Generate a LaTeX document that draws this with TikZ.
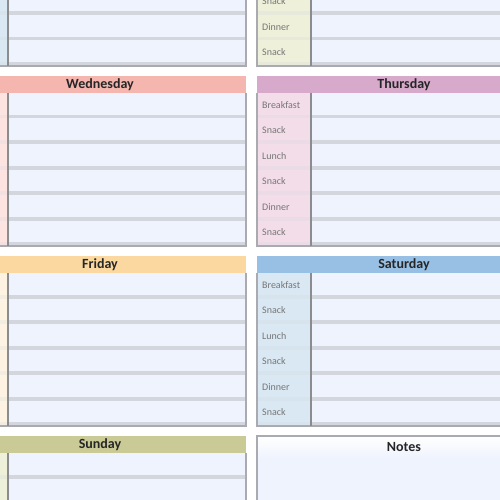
\documentclass[tikz,border=0pt]{standalone}
\usepackage{fontspec}
\setmainfont{Carlito}
\definecolor{cell}{HTML}{EFF3FD}
\definecolor{band}{HTML}{D3D6DD}
\definecolor{bordergray}{HTML}{A9ABB0}
\definecolor{divgray}{HTML}{8A8C90}
\definecolor{wedH}{HTML}{F4B6AE}\definecolor{wedL}{HTML}{FDE4E1}
\definecolor{thuH}{HTML}{D7A9CB}\definecolor{thuL}{HTML}{F3DDE9}
\definecolor{friH}{HTML}{FBD8A0}\definecolor{friL}{HTML}{FEF3E2}
\definecolor{satH}{HTML}{98C0E4}\definecolor{satL}{HTML}{D9E8F3}
\definecolor{sunH}{HTML}{CACA96}\definecolor{sunL}{HTML}{EEF0DA}
\definecolor{labtext}{HTML}{767676}
\definecolor{headtext}{HTML}{262626}
\tikzset{
  headtxt/.style={text=headtext,font=\bfseries\fontsize{14}{15}\selectfont,inner sep=0pt,anchor=center},
  labtxt/.style={text=labtext,font=\fontsize{10}{11}\selectfont,inner sep=0pt,anchor=west},
  panelborder/.style={draw=bordergray,line width=1.6pt},
  dividerline/.style={draw=divgray,line width=1.3pt}
}
% #1 x0, #2 Y (header top), #3 label colour, #4 label list, #5 name
\newcommand\mealbody[5]{%
  \fill[cell] (#1,#2+17) rectangle (#1+292,#2+170);
  \fill[#3] (#1,#2+17) rectangle (#1+54,#2+170);
  \foreach \i in {0,...,5} {
    \fill[band] (#1+54,#2+17+25.5*\i+21.8) rectangle (#1+292,#2+17+25.5*\i+25.5);
    \fill[#3!75!band] (#1,#2+17+25.5*\i+21.8) rectangle (#1+54,#2+17+25.5*\i+25.5);
  }
  \foreach \i/\lab in {#4} {
    \node[labtxt] (#5-\i) at (#1+5,#2+17+25.5*\i+12) {\lab};
  }
  \draw[panelborder] (#1,#2+17) -- (#1,#2+170) -- (#1+292,#2+170) -- (#1+292,#2+17);
  \draw[dividerline] (#1+54,#2+17) -- (#1+54,#2+170);
}
\begin{document}
\begin{tikzpicture}[x=1pt,y=-1pt]
\useasboundingbox (0,0) rectangle (500,500);
\fill[white] (0,0) rectangle (500,500);
\clip (0,0) rectangle (500,500);
% top row (headers off page)
\mealbody{-46}{-104}{satL}{}{tue}
\mealbody{257}{-104}{sunL}{3/Snack,4/Dinner,5/Snack}{mon}
% Wednesday / Thursday
\fill[wedH] (-46,76) rectangle (246,93);
\node[headtxt] (wed) at (100,85) {Wednesday};
\mealbody{-46}{76}{wedL}{}{wedb}
\fill[thuH] (257,76) rectangle (549,93);
\node[headtxt] (thu) at (404,85) {Thursday};
\mealbody{257}{76}{thuL}{0/Breakfast,1/Snack,2/Lunch,3/Snack,4/Dinner,5/Snack}{thub}
% Friday / Saturday
\fill[friH] (-46,256) rectangle (246,273);
\node[headtxt] (fri) at (100,265) {Friday};
\mealbody{-46}{256}{friL}{}{frib}
\fill[satH] (257,256) rectangle (549,273);
\node[headtxt] (sat) at (404,265) {Saturday};
\mealbody{257}{256}{satL}{0/Breakfast,1/Snack,2/Lunch,3/Snack,4/Dinner,5/Snack}{satb}
% Sunday / Notes
\fill[sunH] (-46,436) rectangle (246,453);
\node[headtxt] (sun) at (100,445) {Sunday};
\mealbody{-46}{436}{sunL}{}{sunb}
\shade[top color=white,bottom color=cell] (257,436) rectangle (549,458);
\fill[cell] (257,458) rectangle (549,505);
\draw[panelborder] (257,505) -- (257,436) -- (549,436);
\node[headtxt] (notes) at (404,447) {Notes};
\end{tikzpicture}
\end{document}
